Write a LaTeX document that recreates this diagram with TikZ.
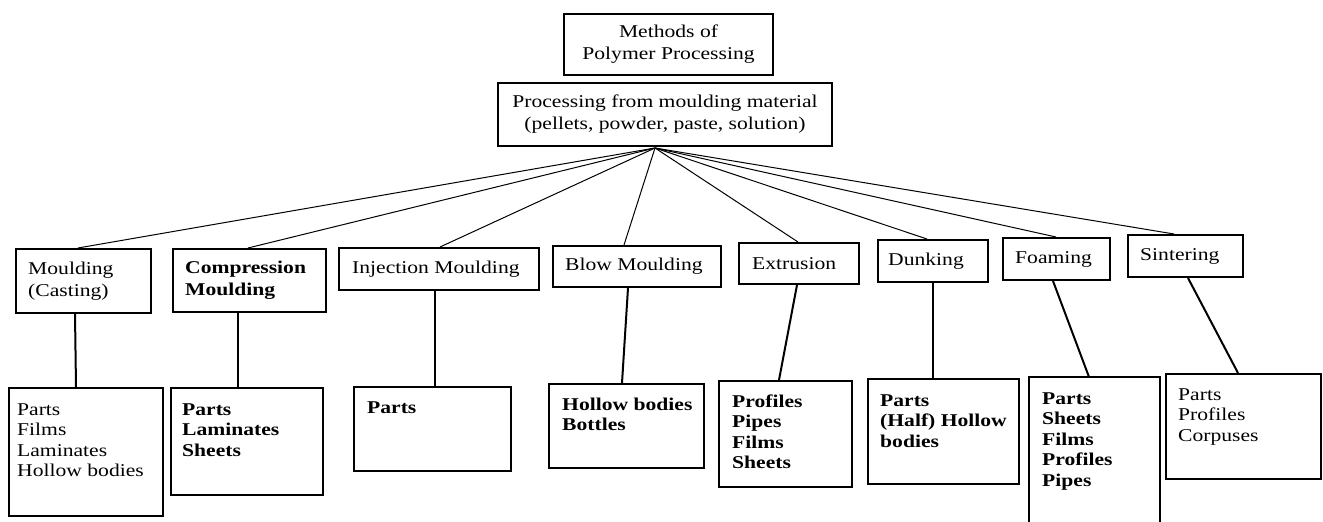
\documentclass[tikz,border=0pt]{standalone}
\usepackage{fontspec}
\setmainfont{Liberation Serif}[FakeStretch=1.2]
\usetikzlibrary{calc}
\newcommand\mkbox[6][]{\node[box,#1,minimum width={(#4-#2)*1pt},minimum height={(#5-#3)*1pt}] (#6) at (#2,#3) {};}
\newcommand\tp{\rule{0pt}{14pt}}
\begin{document}
\begin{tikzpicture}[x=1pt,y=-1pt,
  box/.style={draw,line width=2pt,rectangle,inner sep=0pt,anchor=north west},
  lbl/.style={anchor=west,inner sep=0pt,align=left,font=\fontsize{18}{22}\selectfont},
  lblb/.style={lbl,font=\fontsize{18}{22}\selectfont\bfseries},
  ttl/.style={inner sep=0pt,align=center,font=\fontsize{18}{22}\selectfont},
  lst/.style={anchor=north west,inner sep=0pt,align=left,font=\fontsize{18}{20.5}\selectfont},
  lstb/.style={lst,font=\fontsize{18}{20.5}\selectfont\bfseries},
  fan/.style={line width=1pt},
  stem/.style={line width=2pt}]
\useasboundingbox (0,0) rectangle (1323,522);
% title boxes
\mkbox{563}{13}{772}{74}{m}
\node[ttl] (mt) at (m.center) {Methods of\\Polymer Processing};
\mkbox{497}{82}{831}{145}{p}
\node[ttl] (pt) at (p.center) {Processing from moulding material\\(pellets, powder, paste, solution)};
% method boxes
\mkbox{15}{248}{150}{312}{t1}
\mkbox{172}{248}{325}{311}{t2}
\mkbox{338}{247}{538}{289}{t3}
\mkbox{552}{245}{720}{286}{t4}
\mkbox{738}{242}{858}{283}{t5}
\mkbox{877}{239}{987}{281}{t6}
\mkbox{1002}{237}{1109}{279}{t7}
\mkbox{1127}{234}{1242}{276}{t8}
\node[lbl]  (t1x) at ($(t1.west)+(13,0)$) {Moulding\\(Casting)};
\node[lblb] (t2x) at ($(t2.west)+(13,0)$) {Compression\\Moulding};
\node[lbl]  (t3x) at ($(t3.west)+(14,0)$) {Injection Moulding};
\node[lbl]  (t4x) at ($(t4.west)+(13,0)$) {Blow Moulding};
\node[lbl]  (t5x) at ($(t5.west)+(14,0)$) {Extrusion};
\node[lbl]  (t6x) at ($(t6.west)+(11,0)$) {Dunking};
\node[lbl]  (t7x) at ($(t7.west)+(13,0)$) {Foaming};
\node[lbl]  (t8x) at ($(t8.west)+(13,0)$) {Sintering};
% product boxes
\mkbox{8}{387}{162}{515}{r1}
\mkbox{170}{387}{322}{494}{r2}
\mkbox{353}{386}{510}{470}{r3}
\mkbox{548}{383}{703}{467}{r4}
\mkbox{718}{380}{851}{486}{r5}
\mkbox{867}{378}{1018}{483}{r6}
\mkbox[draw=none]{1029}{377}{1158}{522}{r7}
\draw[line width=2pt] (r7.south west) -- (r7.north west) -- (r7.north east) -- (r7.south east);
\mkbox{1165}{373}{1320}{478}{r8}
\node[lst]  (r1x) at ($(r1.north west)+(9,14)$) {\tp Parts\\Films\\Laminates\\Hollow bodies};
\node[lstb] (r2x) at ($(r2.north west)+(12,14)$) {\tp Parts\\Laminates\\Sheets};
\node[lstb] (r3x) at ($(r3.north west)+(14,13)$) {\tp Parts};
\node[lstb] (r4x) at ($(r4.north west)+(14,13)$) {\tp Hollow bodies\\Bottles};
\node[lstb] (r5x) at ($(r5.north west)+(14,13)$) {\tp Profiles\\Pipes\\Films\\Sheets};
\node[lstb] (r6x) at ($(r6.north west)+(13,14)$) {\tp Parts\\(Half) Hollow\\bodies};
\node[lstb] (r7x) at ($(r7.north west)+(13,13)$) {\tp Parts\\Sheets\\Films\\Profiles\\Pipes};
\node[lst]  (r8x) at ($(r8.north west)+(13,13)$) {\tp Parts\\Profiles\\Corpuses};
% connectors
\coordinate (apex) at ($(p.south west)+(158,1)$);
\foreach \n/\o in {t1/63,t2/76,t3/102,t4/72,t5/60,t6/50,t7/54,t8/47}
  \draw[fan] (apex) -- ($(\n.north west)+(\o,0)$);
\foreach \a/\b/\oa/\ob in {t1/r1/60/68,t2/r2/66/68,t3/r3/97/82,t4/r4/76/74,t5/r5/59/61,t6/r6/56/66,t7/r7/51/60,t8/r8/61/73}
  \draw[stem] ($(\a.south west)+(\oa,0)$) -- ($(\b.north west)+(\ob,0)$);
\end{tikzpicture}
\end{document}
